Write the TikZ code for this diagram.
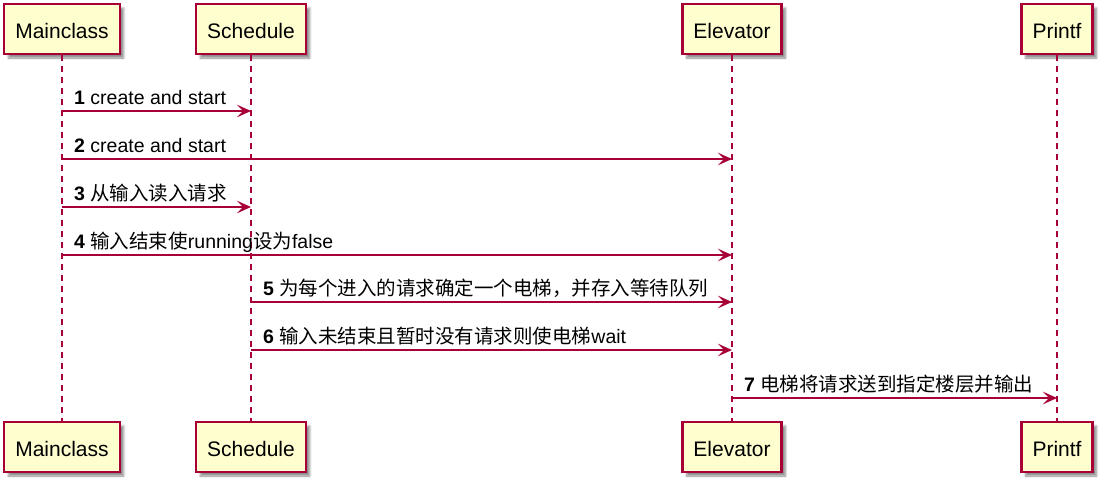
\documentclass[tikz,border=0pt]{standalone}
\usepackage{fontspec}
\setmainfont{Liberation Sans}
\newfontfamily\cjk{Noto Sans CJK SC}
\usetikzlibrary{arrows.meta,shadows.blur}
\definecolor{umlred}{HTML}{A80036}
\definecolor{umlfill}{HTML}{FEFECE}
\newcommand{\zh}[1]{{\cjk #1}}
\tikzset{
  actorbox/.style={draw=umlred,fill=umlfill,line width=2.2pt,minimum height=50pt,
    inner xsep=11pt,text height=20pt,text depth=2pt,font=\fontsize{21}{25}\selectfont,
    blur shadow={shadow xshift=4pt,shadow yshift=-4pt,shadow blur steps=6,shadow opacity=45}},
  lifeline/.style={umlred,line width=1.4pt,dash pattern=on 6pt off 5pt},
  msg/.style={umlred,line width=1.4pt,-{Stealth[length=14pt,width=12.5pt,inset=6pt]}},
  msglabel/.style={anchor=base west,inner sep=0pt,font=\fontsize{19.5}{23}\selectfont},
}
\begin{document}
\begin{tikzpicture}[x=1pt,y=-1pt,line cap=butt]
  \useasboundingbox (0,0) rectangle (1105,488);
  % participants
  \node[actorbox] (mainT) at (62,29) {Mainclass};
  \node[actorbox] (schT) at (251,29) {Schedule};
  \node[actorbox] (elevT) at (732,29) {Elevator};
  \node[actorbox] (prtT) at (1057,29) {Printf};
  \node[actorbox] (mainB) at (62,447) {Mainclass};
  \node[actorbox] (schB) at (251,447) {Schedule};
  \node[actorbox] (elevB) at (732,447) {Elevator};
  \node[actorbox] (prtB) at (1057,447) {Printf};
  % lifelines
  \draw[lifeline] (mainT) -- (mainB);
  \draw[lifeline] (schT) -- (schB);
  \draw[lifeline] (elevT) -- (elevB);
  \draw[lifeline] (prtT) -- (prtB);
  % messages
  \draw[msg] (mainT |- 0,111) -- (schT |- 0,111);
  \path (mainT |- 0,104) ++(12,0) node[msglabel] (lab1) {\textbf{1} create and start};
  \draw[msg] (mainT |- 0,159) -- (elevT |- 0,159);
  \path (mainT |- 0,152) ++(12,0) node[msglabel] (lab2) {\textbf{2} create and start};
  \draw[msg] (mainT |- 0,207) -- (schT |- 0,207);
  \path (mainT |- 0,200) ++(12,0) node[msglabel] (lab3) {\textbf{3} \zh{从输入读入请求}};
  \draw[msg] (mainT |- 0,255) -- (elevT |- 0,255);
  \path (mainT |- 0,248) ++(12,0) node[msglabel] (lab4) {\textbf{4} \zh{输入结束使}running\zh{设为}false};
  \draw[msg] (schT |- 0,302) -- (elevT |- 0,302);
  \path (schT |- 0,295) ++(12,0) node[msglabel] (lab5) {\textbf{5} \zh{为每个进入的请求确定一个电梯，并存入等待队列}};
  \draw[msg] (schT |- 0,350) -- (elevT |- 0,350);
  \path (schT |- 0,343) ++(12,0) node[msglabel] (lab6) {\textbf{6} \zh{输入未结束且暂时没有请求则使电梯}wait};
  \draw[msg] (elevT |- 0,398) -- (prtT |- 0,398);
  \path (elevT |- 0,391) ++(12,0) node[msglabel] (lab7) {\textbf{7} \zh{电梯将请求送到指定楼层并输出}};
\end{tikzpicture}
\end{document}
